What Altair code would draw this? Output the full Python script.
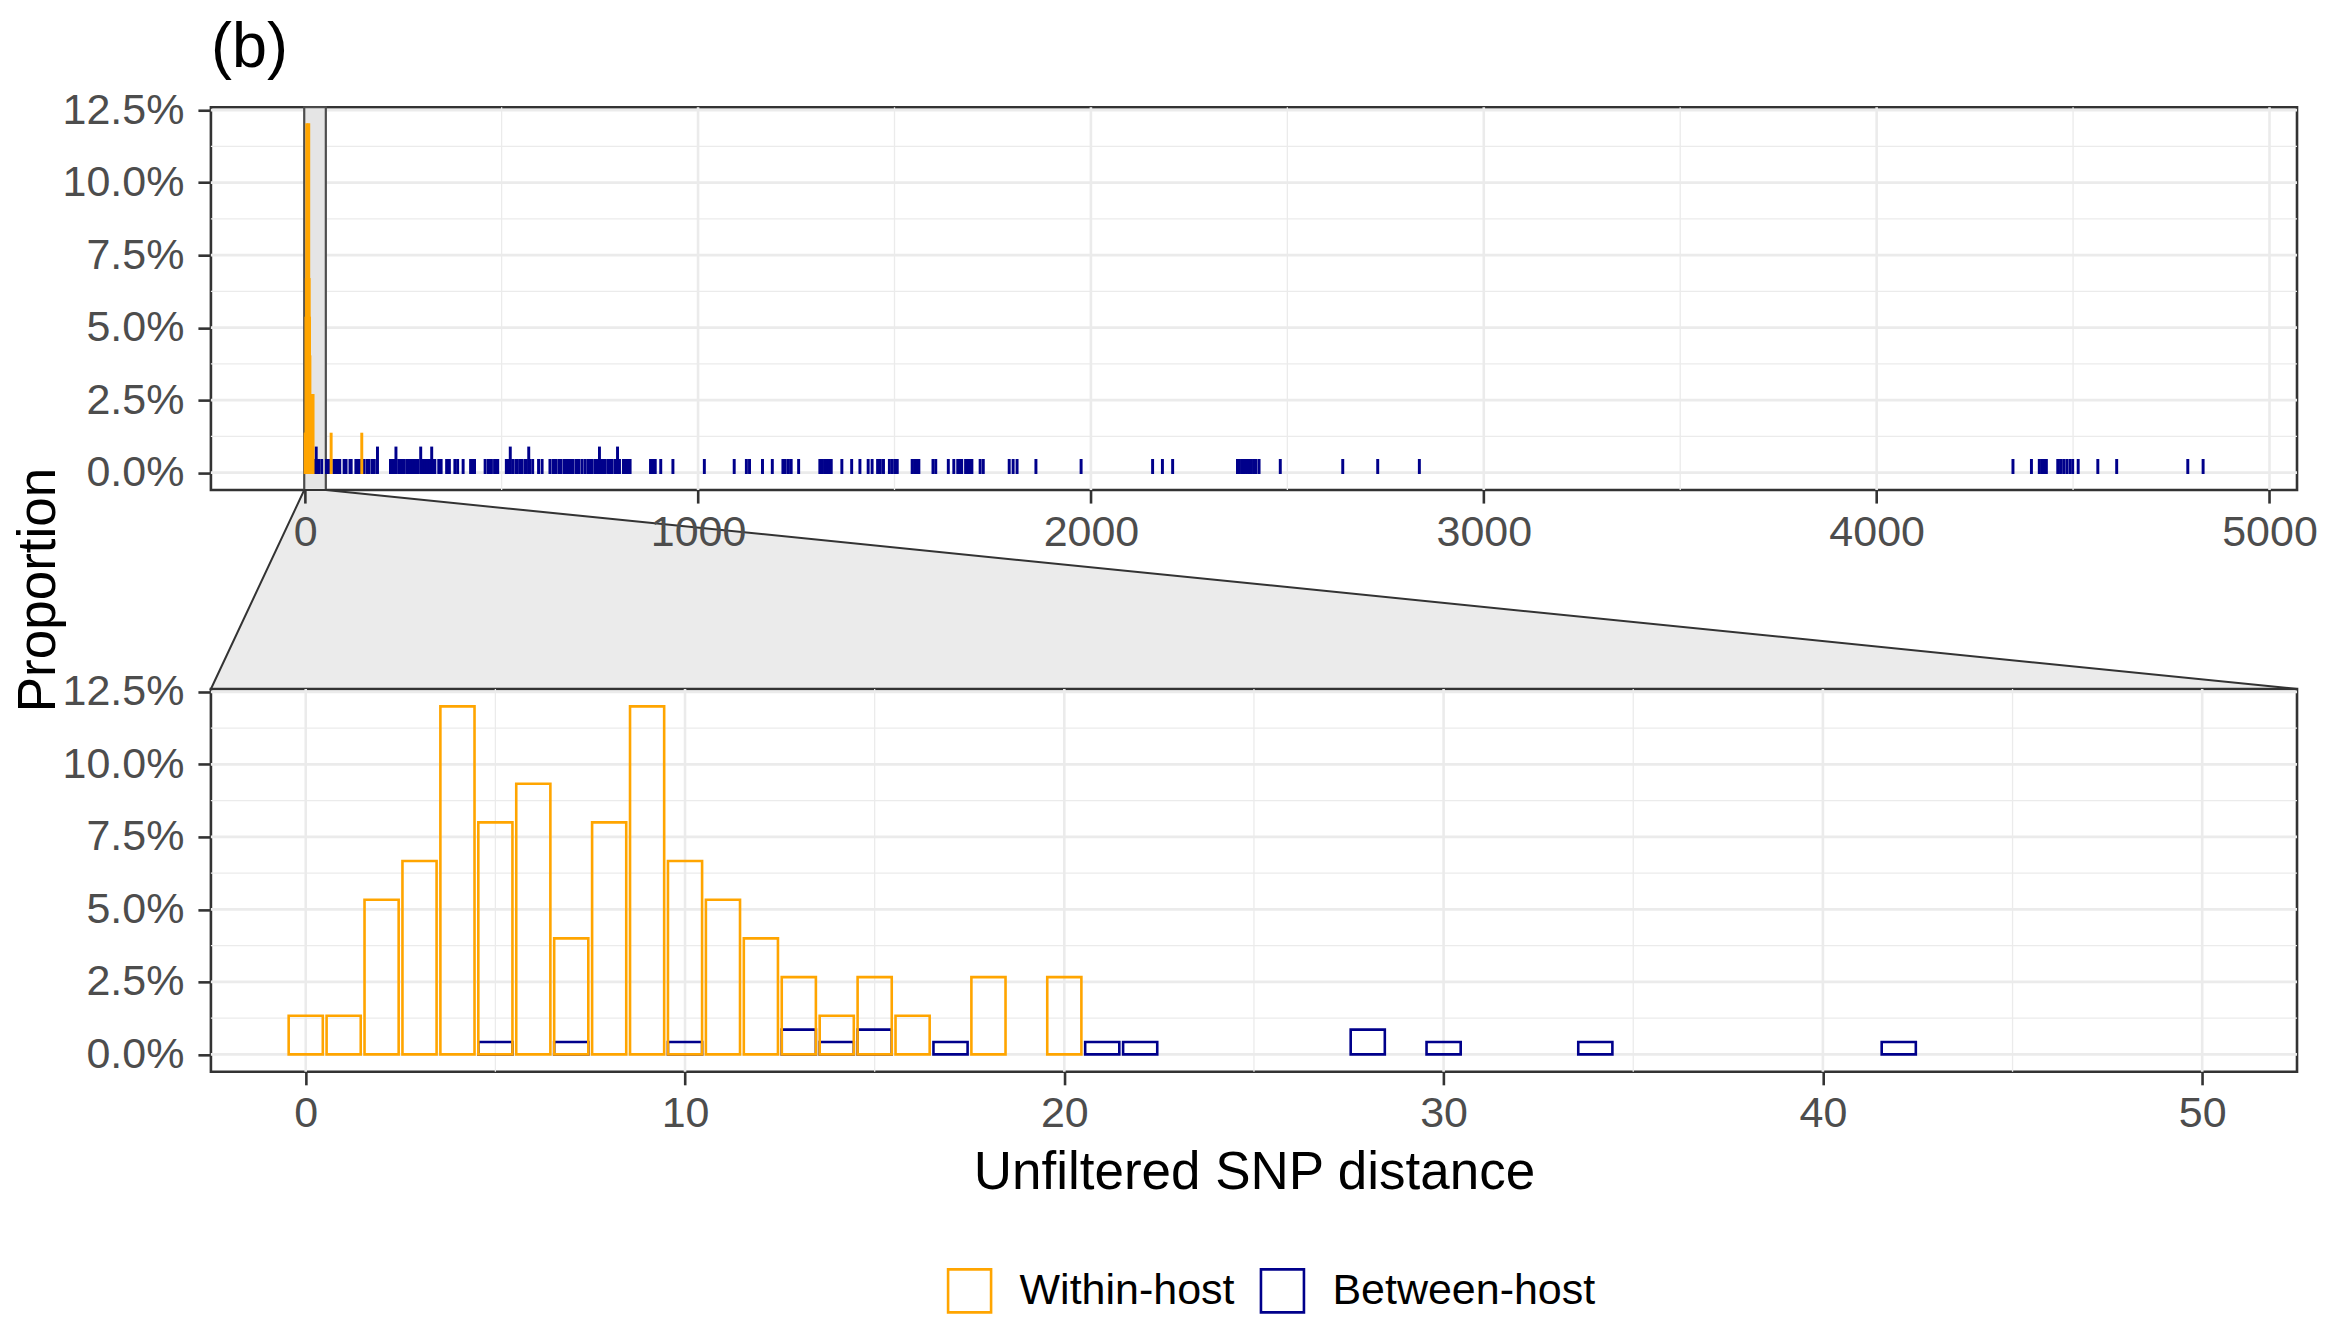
import altair as alt
import pandas as pd

# ---------------- data ----------------
groups = ["Within-host", "Between-host"]
group_colors = ["#FFA500", "#00008B"]

within_dist = [
    0, 1,
    2, 2, 2, 2,
    3, 3, 3, 3, 3,
    4, 4, 4, 4, 4, 4, 4, 4, 4,
    5, 5, 5, 5, 5, 5,
    6, 6, 6, 6, 6, 6, 6,
    7, 7, 7,
    8, 8, 8, 8, 8, 8,
    9, 9, 9, 9, 9, 9, 9, 9, 9,
    10, 10, 10, 10, 10,
    11, 11, 11, 11,
    12, 12, 12,
    13, 13, 14, 15, 15, 16, 18, 18, 20, 20,
    66, 144,
]

between_dist = [
    5, 7, 10, 13, 13, 14, 15, 15, 17, 21, 22, 28, 28, 30, 34, 42,
    54, 58, 62, 66, 74, 78, 83, 88, 99, 104, 114, 117, 129, 134, 139,
    150, 158, 162, 170, 174, 182, 184, 184,
    217, 221, 225, 227, 231, 231, 238, 243, 248, 252,
    259, 263, 267, 271, 275, 279, 283, 287, 294, 294,
    297, 301, 305, 309, 313, 317, 322, 322, 326, 330,
    340, 346, 360, 367, 381, 388, 402, 421, 426, 431,
    458, 466, 470, 474, 482, 486, 490,
    512, 516, 522, 522, 528, 536, 540,
    547, 551, 559, 563, 569, 569, 571, 579, 594, 603,
    623, 631, 635, 639, 647, 651, 659,
    663, 667, 671, 677, 681, 689, 693, 697, 705,
    713, 721, 725, 729, 737, 743, 749, 749, 751, 755, 759,
    764, 772, 776, 780, 788, 793, 795, 795, 800,
    810, 814, 818, 822, 827, 879, 885, 891,
    905, 936, 1016, 1092, 1123, 1131, 1164, 1189,
    1216, 1222, 1230, 1237, 1256,
    1310, 1316, 1322, 1328, 1334, 1339,
    1366, 1391, 1412, 1433, 1443, 1457, 1464, 1472, 1487, 1494, 1501, 1507,
    1545, 1551, 1557, 1562, 1598, 1605, 1637,
    1651, 1661, 1666, 1671, 1681, 1686, 1691, 1697, 1718, 1726,
    1792, 1802, 1812, 1860, 1975,
    2157, 2182, 2208, 2373, 2378, 2384, 2390, 2396, 2402, 2408, 2414, 2420, 2428,
    2482, 2641, 2730, 2836,
    4347, 4394, 4414, 4420, 4426, 4432, 4461, 4468, 4476, 4484, 4492, 4499,
    4513, 4563, 4611, 4792, 4831,
]

# axis / scale settings
top_x_domain = [-240, 5070]
top_x_major = [0, 1000, 2000, 3000, 4000, 5000]
top_x_minor = [500, 1500, 2500, 3500, 4500]
zoom_x_domain = [-2.5, 52.5]
zoom_x_major = [0, 10, 20, 30, 40, 50]
zoom_x_minor = [5, 15, 25, 35, 45]
y_domain = [-0.006, 0.126]
y_major = [0.0, 0.025, 0.05, 0.075, 0.1, 0.125]
y_minor = [0.0125, 0.0375, 0.0625, 0.0875, 0.1125]

PANEL_W, PANEL_H, GAP = 2087, 383, 199
BAR_WIDTH = 0.9
FONT = "Liberation Sans"

# proportions per group (histogram with bin width 1)
rows = []
for g, d in (("Between-host", between_dist), ("Within-host", within_dist)):
    counts = pd.Series(d).value_counts().sort_index()
    for dist, c in counts.items():
        rows.append({"group": g, "dist": float(dist), "prop": c / len(d)})
bars_df = pd.DataFrame(rows)

color_scale = alt.Scale(domain=groups, range=group_colors)
ys = alt.Scale(domain=y_domain, nice=False, zero=False)

GRID = "#EBEBEB"
DARK = "#333333"


def grid_layers(xs, xax, yax, xmaj, xmin):
    minor_x = alt.Chart(pd.DataFrame({"v": xmin})).mark_rule(color=GRID, strokeWidth=1.3).encode(
        x=alt.X("v:Q", scale=xs, axis=xax))
    minor_y = alt.Chart(pd.DataFrame({"v": y_minor})).mark_rule(color=GRID, strokeWidth=1.3).encode(
        y=alt.Y("v:Q", scale=ys, axis=yax))
    major_x = alt.Chart(pd.DataFrame({"v": xmaj})).mark_rule(color=GRID, strokeWidth=2.6).encode(
        x=alt.X("v:Q", scale=xs, axis=xax))
    major_y = alt.Chart(pd.DataFrame({"v": y_major})).mark_rule(color=GRID, strokeWidth=2.6).encode(
        y=alt.Y("v:Q", scale=ys, axis=yax))
    return [minor_x, minor_y, major_x, major_y]


def bar_layer(xs, xax, yax, legend, clip):
    return (
        alt.Chart(bars_df)
        .transform_calculate(x0=f"datum.dist - {BAR_WIDTH / 2}", x1=f"datum.dist + {BAR_WIDTH / 2}")
        .mark_rect(filled=False, strokeWidth=2.6, clip=clip)
        .encode(
            x=alt.X("x0:Q", scale=xs, axis=xax),
            x2="x1:Q",
            y=alt.Y("prop:Q", scale=ys, axis=yax),
            y2=alt.Y2(datum=0),
            color=alt.Color("group:N", scale=color_scale, legend=legend),
        )
    )


# ---------------- top (overview) panel ----------------
xs_top = alt.Scale(domain=top_x_domain, nice=False, zero=False)
x_axis_top = alt.Axis(values=top_x_major, format="d", title=None, zindex=1)
y_axis_top = alt.Axis(values=y_major, format=".1%", title="Proportion", titleAngle=270,
                      titleBaseline="middle", titleX=-172, titleY=PANEL_H + GAP / 2,
                      labelPadding=14)

band = alt.Chart(pd.DataFrame({"a": [zoom_x_domain[0]], "b": [zoom_x_domain[1]]})).mark_rect(
    fill="#E5E5E5", stroke="#4D4D4D", strokeWidth=2.2).encode(
    x=alt.X("a:Q", scale=xs_top, axis=x_axis_top), x2="b:Q")

y_low = y_domain[0] - GAP / PANEL_H * (y_domain[1] - y_domain[0])
trap_df = pd.DataFrame({
    "x": [top_x_domain[0], zoom_x_domain[0], zoom_x_domain[1], top_x_domain[1]],
    "y": [y_low, y_domain[0], y_domain[0], y_low],
    "y2": [y_low, y_low, y_low, y_low],
})
trap = alt.Chart(trap_df).mark_area(fill="#EBEBEB", stroke=DARK, strokeWidth=2, orient="vertical",
                                    clip=False).encode(
    x=alt.X("x:Q", scale=xs_top, axis=x_axis_top),
    y=alt.Y("y:Q", scale=ys, axis=y_axis_top),
    y2="y2:Q",
)

top = alt.layer(
    *grid_layers(xs_top, x_axis_top, y_axis_top, top_x_major, top_x_minor), band, trap,
    bar_layer(xs_top, x_axis_top, y_axis_top, None, False),
).properties(
    width=PANEL_W, height=PANEL_H,
    title=alt.TitleParams("(b)", anchor="start", frame="group", fontSize=63, font=FONT,
                          fontWeight="normal", color="black", offset=9),
)

# ---------------- bottom (zoomed) panel ----------------
xs_zoom = alt.Scale(domain=zoom_x_domain, nice=False, zero=False)
x_axis_zoom = alt.Axis(values=zoom_x_major, format="d", title="Unfiltered SNP distance", titlePadding=11)
y_axis_zoom = alt.Axis(values=y_major, format=".1%", title=None, labelPadding=14)
legend = alt.Legend(
    title=None, orient="none", legendX=736, legendY=579, direction="horizontal",
    symbolType="square", symbolSize=1850, symbolStrokeWidth=2.6, symbolFillColor="white",
    labelFontSize=43, labelColor="black", labelFont=FONT, labelOffset=27, columnPadding=20,
    labelLimit=0, padding=0,
)
bottom = alt.layer(
    *grid_layers(xs_zoom, x_axis_zoom, y_axis_zoom, zoom_x_major, zoom_x_minor),
    bar_layer(xs_zoom, x_axis_zoom, y_axis_zoom, legend, True)
    .transform_filter(f"datum.dist <= {zoom_x_domain[1]}"),
).properties(width=PANEL_W, height=PANEL_H)

chart = (
    alt.vconcat(top, bottom, spacing=GAP, bounds="flush")
    .resolve_scale(color="independent")
    .resolve_legend(color="independent")
    .properties(padding={"left": 3, "top": 7, "right": 0, "bottom": 0}, background="white")
    .configure_view(stroke=DARK, strokeWidth=2.6)
    .configure_axis(
        labelFont=FONT, labelFontSize=43, labelColor="#4D4D4D", tickColor=DARK, tickWidth=2.6,
        tickSize=13, labelPadding=8, domain=False, grid=False,
        titleFont=FONT, titleFontSize=53, titleColor="black", titleFontWeight="normal",
    )
)

chart.save("out.html", embed_options={"renderer": "svg", "actions": False})
